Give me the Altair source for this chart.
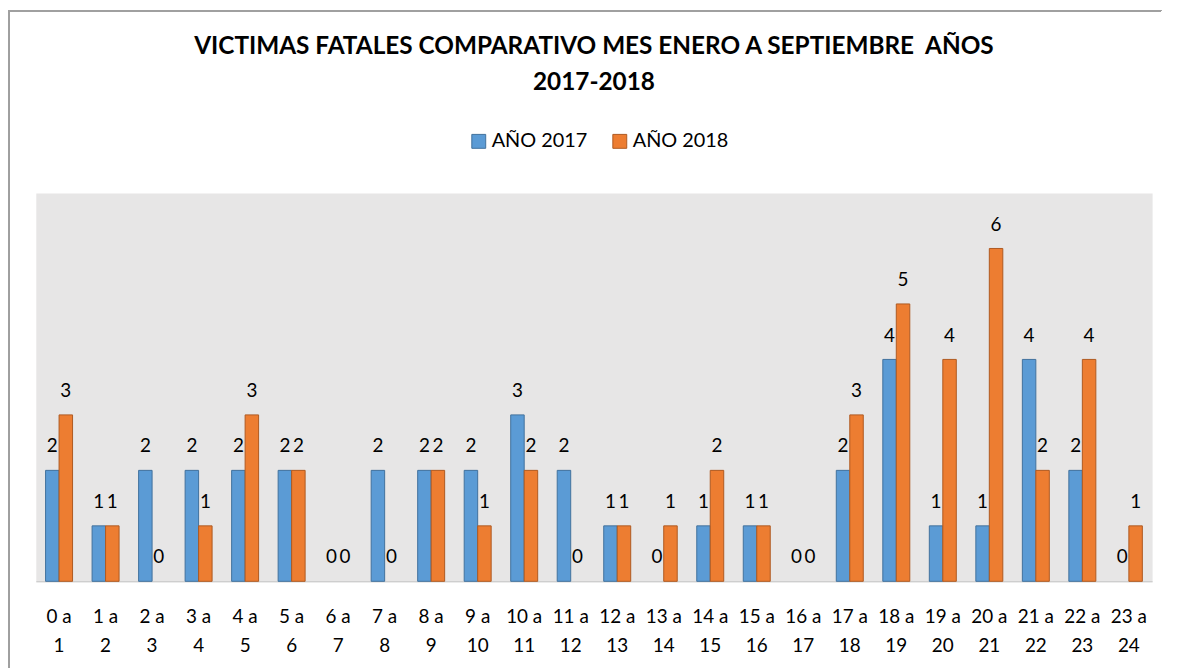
import altair as alt
import pandas as pd

cats = [f"{i} a {i+1}" for i in range(24)]
v2017 = [2, 1, 2, 2, 2, 2, 0, 2, 2, 2, 3, 2, 1, 0, 1, 1, 0, 2, 4, 1, 1, 4, 2, 0]
v2018 = [3, 1, 0, 1, 3, 2, 0, 0, 2, 1, 2, 0, 1, 1, 2, 1, 0, 3, 5, 4, 6, 2, 4, 1]
series = ["AÑO 2017", "AÑO 2018"]
colors = ["#5B9BD5", "#ED7D31"]
strokes = ["#41719C", "#AE5A21"]

rows = []
for c, a, b in zip(cats, v2017, v2018):
    rows.append({"hora": c, "serie": series[0], "valor": a})
    rows.append({"hora": c, "serie": series[1], "valor": b})
df = pd.DataFrame(rows)

FONT = "Lato"

x = alt.X(
    "hora:N",
    sort=cats,
    title=None,
    scale=alt.Scale(paddingInner=0.42, paddingOuter=0.21),
    axis=alt.Axis(
        labelAngle=0,
        ticks=False,
        domainColor="#BFBFBF",
        domainWidth=1,
        labelFontSize=19,
        labelFont=FONT,
        labelColor="#000000",
        labelLineHeight=30,
        labelPadding=26,
        labelBaseline="top",
        labelExpr="[split(datum.label, ' a ')[0] + ' a', split(datum.label, ' a ')[1]]",
    ),
)
y = alt.Y("valor:Q", scale=alt.Scale(domain=[0, 7]), axis=None)

base = alt.Chart(df)

bars = base.mark_bar(strokeWidth=1).encode(
    x=x,
    xOffset=alt.XOffset("serie:N", sort=series),
    y=y,
    color=alt.Color(
        "serie:N",
        scale=alt.Scale(domain=series, range=colors),
        legend=alt.Legend(
            title=None,
            orient="none",
            direction="horizontal",
            legendX=436,
            legendY=-62,
            symbolType="square",
            symbolSize=196,
            symbolStrokeWidth=1,
            labelFontSize=20,
            labelFont=FONT,
            labelColor="#000000",
            columnPadding=22,
            labelOffset=3,
        ),
    ),
    stroke=alt.Stroke("serie:N", scale=alt.Scale(domain=series, range=strokes), legend=None),
).transform_filter("datum.valor > 0")

labels = base.mark_text(
    dy=-18, baseline="alphabetic", fontSize=19, font=FONT, color="#000000"
).encode(
    x=x,
    xOffset=alt.XOffset("serie:N", sort=series),
    y=y,
    text=alt.Text("valor:Q"),
)

left_border = base.mark_rule(color="#A0A0A0", strokeWidth=1.5).encode(
    x=alt.value(-27.5), y=alt.value(-183.5), y2=alt.value(480)
)
top_border = base.mark_rule(color="#A0A0A0", strokeWidth=1.5).encode(
    x=alt.value(-27.5), x2=alt.value(1133), y=alt.value(-183.5)
)

chart = (
    alt.layer(bars, labels, left_border, top_border)
    .properties(
        width=1124,
        height=391,
        autosize=alt.AutoSizeParams(type="none"),
        padding={"left": 28, "top": 184, "right": 17, "bottom": 85},
        title=alt.Title(
            ["VICTIMAS FATALES COMPARATIVO MES ENERO A SEPTIEMBRE\u00a0 AÑOS", "2017-2018"],
            font=FONT,
            fontSize=24.5,
            fontWeight="bold",
            color="#000000",
            lineHeight=36,
            anchor="middle",
            frame="group",
            offset=-86,
        ),
    )
    .configure(background="white")
    .configure_view(fill="#E7E6E6", stroke="transparent")
)

chart.save("out.html", embed_options={"renderer": "svg", "actions": False})
